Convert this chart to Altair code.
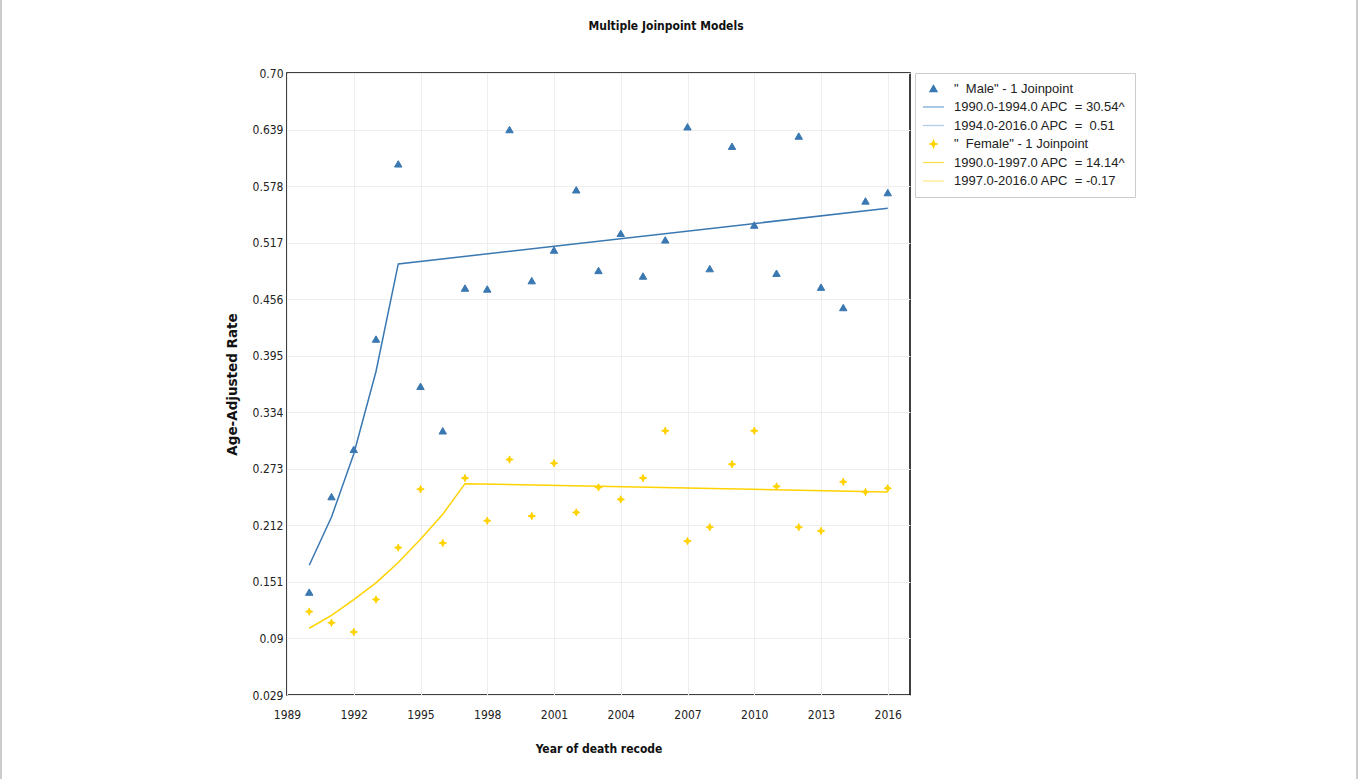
import altair as alt
import pandas as pd

# ---------------- data ----------------
years = list(range(1990, 2017))
male_rate = [0.140, 0.243, 0.294, 0.413, 0.602, 0.362, 0.314, 0.468, 0.467, 0.639,
             0.476, 0.509, 0.574, 0.487, 0.527, 0.481, 0.520, 0.642, 0.489, 0.621,
             0.536, 0.484, 0.632, 0.469, 0.447, 0.562, 0.571]
female_rate = [0.119, 0.107, 0.097, 0.132, 0.188, 0.251, 0.193, 0.263, 0.217, 0.283,
               0.222, 0.279, 0.226, 0.253, 0.240, 0.263, 0.314, 0.195, 0.210, 0.278,
               0.314, 0.254, 0.210, 0.206, 0.259, 0.248, 0.252]

male_fit_years = [1990, 1991, 1992, 1993, 1994, 2016]
male_fit = [0.169, 0.221, 0.289, 0.378, 0.494, 0.554]
female_fit_years = [1990, 1991, 1992, 1993, 1994, 1995, 1996, 1997, 2016]
female_fit = [0.101, 0.115, 0.132, 0.150, 0.172, 0.197, 0.224, 0.257, 0.248]

NB = "\u00a0"
legend_labels = ['"' + NB + NB + 'Male" - 1 Joinpoint',
                 '1990.0-1994.0 APC' + NB + NB + '= 30.54^',
                 '1994.0-2016.0 APC' + NB + NB + '=' + NB + NB + '0.51',
                 '"' + NB + NB + 'Female" - 1 Joinpoint',
                 '1990.0-1997.0 APC' + NB + NB + '= 14.14^',
                 '1997.0-2016.0 APC' + NB + NB + '= -0.17']

chart_title = ["Multiple Joinpoint Models"]
x_ticks = [1989, 1992, 1995, 1998, 2001, 2004, 2007, 2010, 2013, 2016]
y_ticks = [0.029, 0.09, 0.151, 0.212, 0.273, 0.334, 0.395, 0.456, 0.517, 0.578, 0.639, 0.70]

# ---------------- styles ----------------
BLUE = "#3a78b2"
YELLOW = "#ffd200"
LINE_PATH = "M-3,0H3"
STAR_PATH = "M0,-1L0.28,-0.28L1,0L0.28,0.28L0,1L-0.28,0.28L-1,0L-0.28,-0.28Z"

fill_range = [BLUE, BLUE, BLUE, YELLOW, YELLOW, YELLOW]
stroke_range = [BLUE, "#7eaad4", "#b3cce3", YELLOW, "#ffe04a", "#ffe98a"]
shape_range = ["triangle-up", LINE_PATH, LINE_PATH, STAR_PATH, LINE_PATH, LINE_PATH]

points_df = pd.DataFrame({
    "year": years + years,
    "rate": male_rate + female_rate,
    "series": [legend_labels[0]] * len(years) + [legend_labels[3]] * len(years),
})
male_fit_df = pd.DataFrame({"year": male_fit_years, "rate": male_fit})
female_fit_df = pd.DataFrame({"year": female_fit_years, "rate": female_fit})
title_df = pd.DataFrame({"t": chart_title})

FONT = "DejaVu Sans Condensed, DejaVu Sans"

x_enc = alt.X("year:Q",
              scale=alt.Scale(domain=[1989, 2017], nice=False, zero=False),
              axis=alt.Axis(values=x_ticks, format="d", title="Year of death recode",
                            labelPadding=14, titlePadding=23, labelFlush=False,
                            titleFont=FONT, titleFontSize=12))
y_enc = alt.Y("rate:Q",
              scale=alt.Scale(domain=[0.029, 0.70], nice=False, zero=False),
              axis=alt.Axis(values=y_ticks, title="Age-Adjusted Rate",
                            labelExpr="datum.value == 0.7 ? '0.70' : format(datum.value, '.3~f')",
                            labelPadding=4, titlePadding=13, labelFlush=False,
                            titleFont="DejaVu Sans", titleFontSize=13.5))

points = alt.Chart(points_df).mark_point(filled=True, size=55, strokeWidth=1, opacity=1).encode(
    x=x_enc,
    y=y_enc,
    fill=alt.Fill("series:N", scale=alt.Scale(domain=legend_labels, range=fill_range), legend=alt.Legend(title=None)),
    stroke=alt.Stroke("series:N", scale=alt.Scale(domain=legend_labels, range=stroke_range), legend=alt.Legend(title=None)),
    shape=alt.Shape("series:N", scale=alt.Scale(domain=legend_labels, range=shape_range), legend=alt.Legend(title=None)),
)

male_line = alt.Chart(male_fit_df).mark_line(color=BLUE, strokeWidth=1.5).encode(x="year:Q", y="rate:Q")
female_line = alt.Chart(female_fit_df).mark_line(color=YELLOW, strokeWidth=1.5).encode(x="year:Q", y="rate:Q")

title_text = alt.Chart(title_df).mark_text(
    font=FONT, fontSize=12, fontWeight="bold", color="#111111", align="center", baseline="middle"
).encode(text="t:N", x=alt.value(379), y=alt.value(-47))

frame = alt.Chart(pd.DataFrame({"k": [0]})).mark_rule(color="#999999", strokeWidth=1).encode(
    x=alt.value(-286), y=alt.value(-73), y2=alt.value(706))
frame2 = alt.Chart(pd.DataFrame({"k": [0]})).mark_rule(color="#999999", strokeWidth=1).encode(
    x=alt.value(1070), y=alt.value(-73), y2=alt.value(706))

chart = alt.layer(frame, frame2, title_text, male_line, female_line, points).properties(
    width=623,
    height=622,
    autosize=alt.AutoSizeParams(type="none"),
    padding={"left": 287, "top": 73, "right": 449, "bottom": 84},
).configure(
    background="white",
).configure_view(
    stroke="black", strokeWidth=1.5,
).configure_axis(
    grid=True, gridColor="#eeeeee", gridWidth=1,
    domain=False, ticks=False,
    labelFont=FONT, labelFontSize=12, labelColor="#222222",
    titleFontWeight="bold", titleColor="#111111",
).configure_legend(
    orient="right", offset=5,
    strokeColor="#cccccc", strokeWidth=1, padding=9,
    symbolSize=50, symbolStrokeWidth=1.3, symbolOffset=3,
    labelFont="Liberation Sans", labelFontSize=13, labelColor="#222222",
    labelOffset=14, rowPadding=4.5, labelLimit=400,
)

chart.save("out.html", embed_options={"renderer": "svg", "actions": False})
